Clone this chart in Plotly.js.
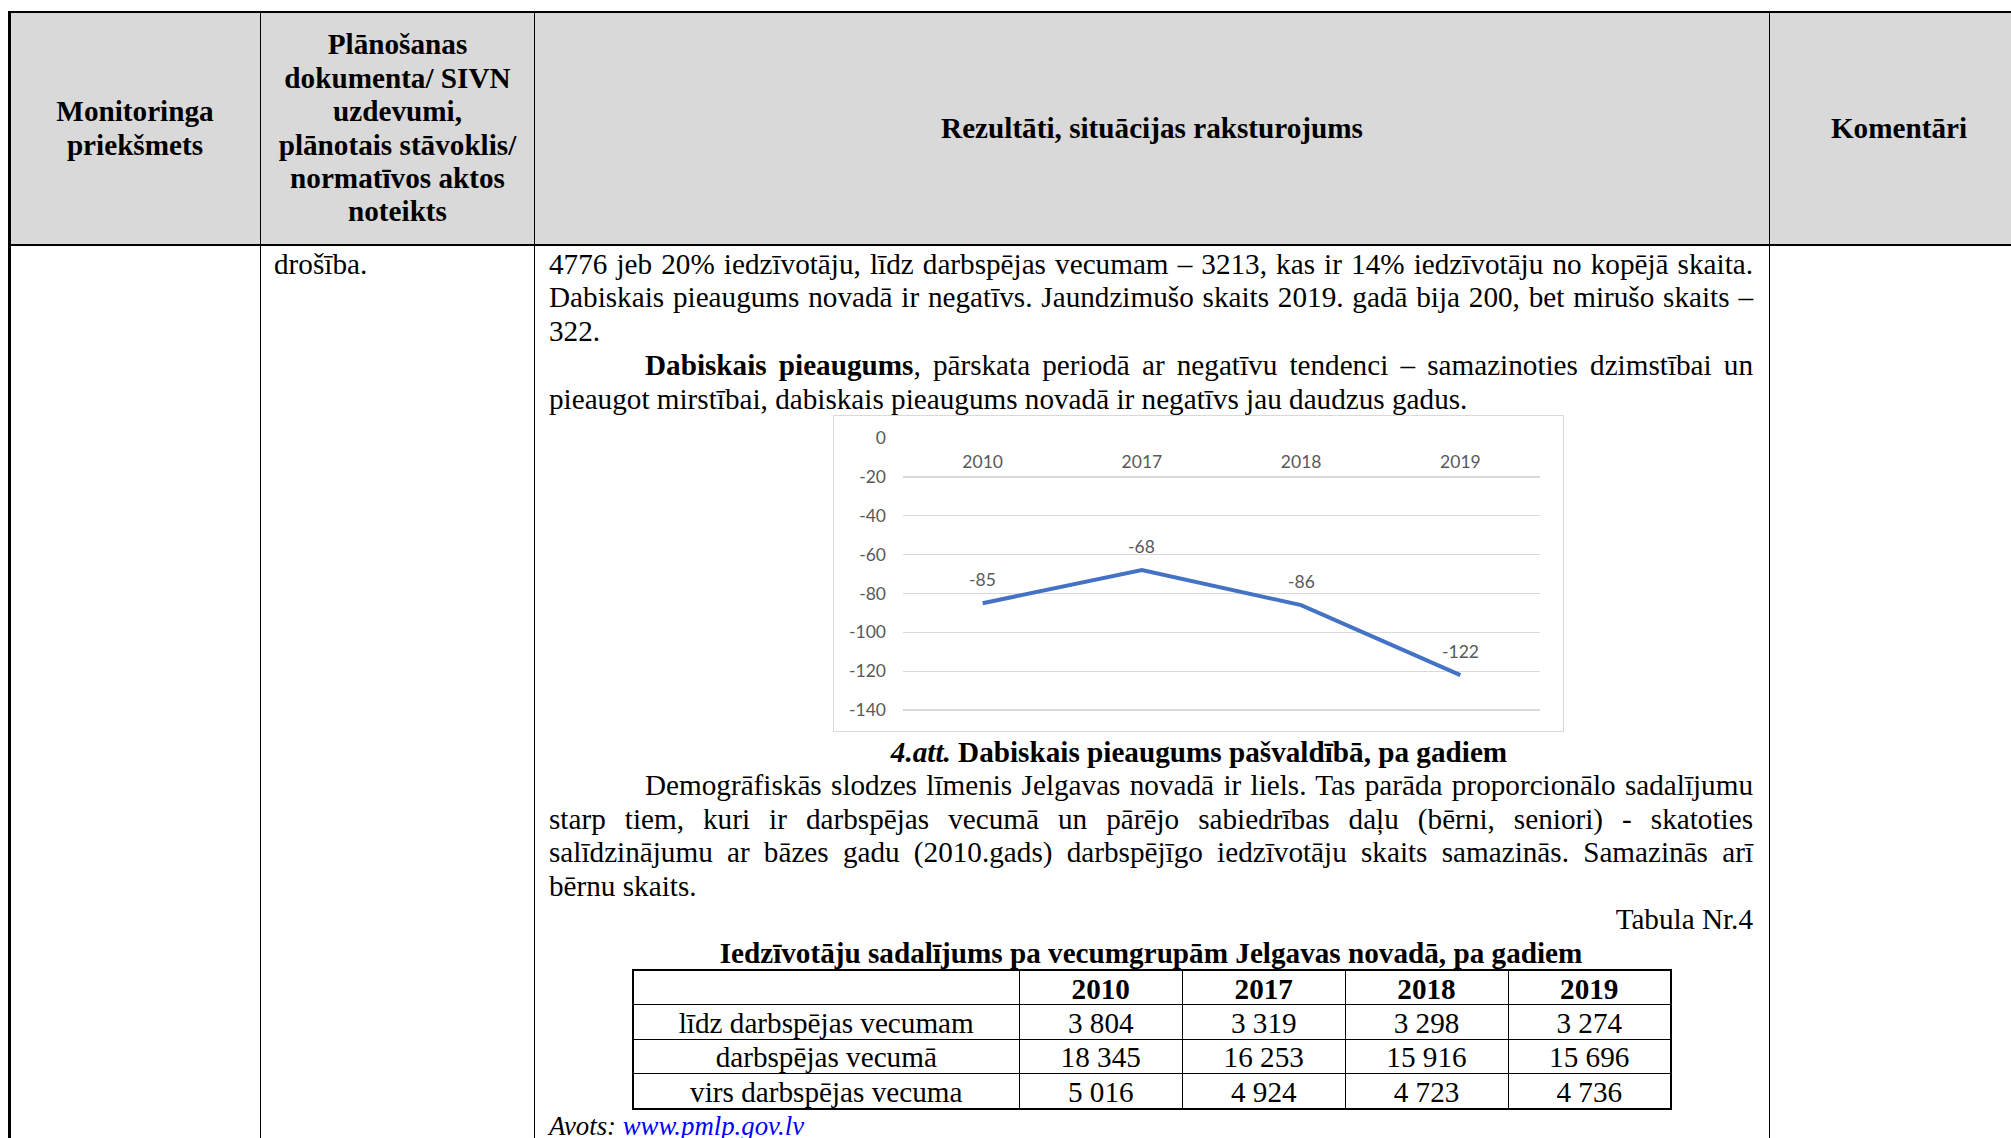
<!DOCTYPE html>
<html>
<head>
<meta charset="utf-8">
<script src="https://cdn.plot.ly/plotly-3.0.1.min.js"></script>
<style>
  html, body { margin: 0; padding: 0; background: #fff; }
  body { width: 2011px; height: 1138px; overflow: hidden; position: relative;
         font-family: "Liberation Serif", "Times New Roman", serif; font-size: 29.2px; color: #000; }
  .abs { position: absolute; }
  .hl { position: absolute; background: #000; }
  .vl { position: absolute; background: #000; top: 11px; height: 1127px; }
  .hcell { position: absolute; top: 13px; height: 231px; display: flex; align-items: center;
           justify-content: center; text-align: center; font-weight: bold; line-height: 33.4px; }
  .line { position: absolute; left: 549px; width: 1204px; height: 33.4px; line-height: 33.4px; white-space: nowrap; }
  .just { text-align: justify; text-align-last: justify; }
  .ind { left: 645px; width: 1108px; }
  #tbl { position: absolute; left: 632px; top: 969px; border-collapse: collapse; table-layout: fixed;
         width: 1039px; border: 2px solid #000; }
  #tbl td { border: 1.5px solid #000; padding: 0; height: 32px; line-height: 33.4px; vertical-align: top;
            text-align: center; white-space: nowrap; }
  #tbl td > div { position: relative; top: 1.5px; }
  #tbl tr:first-child td { font-weight: bold; }
  #chartBorder { position: absolute; left: 833px; top: 415px; width: 731px; height: 317px;
                 border: 1.5px solid #d9d9d9; box-sizing: border-box; pointer-events: none; }
  #grafico { position: absolute; left: 834px; top: 416px; width: 730px; height: 314px; }
</style>
</head>
<body>

<!-- outer table -->
<div class="abs" style="left:10px;top:12px;width:2011px;height:233px;background:#d9d9d9;"></div>
<div class="hl" style="left:8px;top:11px;width:2011px;height:2px;"></div>
<div class="hl" style="left:8px;top:244px;width:2011px;height:2px;"></div>
<div class="vl" style="left:8px;width:2.5px;"></div>
<div class="vl" style="left:259.5px;width:1.5px;"></div>
<div class="vl" style="left:533.5px;width:1.5px;"></div>
<div class="vl" style="left:1768.5px;width:1.5px;"></div>

<div class="hcell" style="left:10px;width:250px;">Monitoringa<br>priekšmets</div>
<div class="hcell" style="left:261px;width:273px;">Plānošanas<br>dokumenta/ SIVN<br>uzdevumi,<br>plānotais stāvoklis/<br>normatīvos aktos<br>noteikts</div>
<div class="hcell" style="left:535px;width:1234px;">Rezultāti, situācijas raksturojums</div>
<div class="hcell" style="left:1770px;width:258px;">Komentāri</div>

<div class="line" style="left:274px;width:250px;top:248px;">drošība.</div>

<div class="line just" style="top:248px;">4776 jeb 20% iedzīvotāju, līdz darbspējas vecumam – 3213, kas ir 14% iedzīvotāju no kopējā skaita.</div>
<div class="line just" style="top:281.4px;">Dabiskais pieaugums novadā ir negatīvs. Jaundzimušo skaits 2019. gadā bija 200, bet mirušo skaits –</div>
<div class="line" style="top:315px;">322.</div>
<div class="line just ind" style="top:349px;"><b>Dabiskais pieaugums</b>, pārskata periodā ar negatīvu tendenci – samazinoties dzimstībai un</div>
<div class="line" style="top:382.6px;">pieaugot mirstībai, dabiskais pieaugums novadā ir negatīvs jau daudzus gadus.</div>

<div id="grafico"></div>
<div id="chartBorder"></div>

<div class="line" style="left:834px;width:730px;text-align:center;top:735.5px;font-weight:bold;"><i>4.att.</i> Dabiskais pieaugums pašvaldībā, pa gadiem</div>

<div class="line just ind" style="top:769.4px;">Demogrāfiskās slodzes līmenis Jelgavas novadā ir liels. Tas parāda proporcionālo sadalījumu</div>
<div class="line just" style="top:802.8px;">starp tiem, kuri ir darbspējas vecumā un pārējo sabiedrības daļu (bērni, seniori) - skatoties</div>
<div class="line just" style="top:836.2px;">salīdzinājumu ar bāzes gadu (2010.gads) darbspējīgo iedzīvotāju skaits samazinās. Samazinās arī</div>
<div class="line" style="top:869.6px;">bērnu skaits.</div>
<div class="line" style="top:903.3px;text-align:right;">Tabula Nr.4</div>
<div class="line" style="top:936.7px;text-align:center;font-weight:bold;">Iedzīvotāju sadalījums pa vecumgrupām Jelgavas novadā, pa gadiem</div>

<table id="tbl"></table>

<div class="abs" style="left:549px;top:1111px;font-size:26.8px;line-height:30px;font-style:italic;white-space:nowrap;">Avots: <span style="color:#0000ff;">www.pmlp.gov.lv</span></div>

<script>
// dabiskais pieaugums pa gadiem
var gadi = ['2010', '2017', '2018', '2019'];
var pieaugums = [-85, -68, -86, -122];
var assVertibas = [0, -20, -40, -60, -80, -100, -120, -140];

// iedzīvotāju sadalījums pa vecumgrupām
var vecumgrupas = ['līdz darbspējas vecumam', 'darbspējas vecumā', 'virs darbspējas vecuma'];
var lidzDarbspejas = [3804, 3319, 3298, 3274];
var darbspejas = [18345, 16253, 15916, 15696];
var virsDarbspejas = [5016, 4924, 4723, 4736];

function formatet(n) {
    return String(n).replace(/\B(?=(\d{3})+(?!\d))/g, ' ');
}

function tabula() {
    var rindas = [lidzDarbspejas, darbspejas, virsDarbspejas];
    var platumi = [386, 163.5, 162.5, 163, 163];
    var html = '<colgroup>';
    for (var k = 0; k < platumi.length; k++) {
        html += '<col style="width:' + platumi[k] + 'px">';
    }
    html += '</colgroup><tr><td></td>';
    for (var i = 0; i < gadi.length; i++) {
        html += '<td><div>' + gadi[i] + '</div></td>';
    }
    html += '</tr>';
    for (var r = 0; r < rindas.length; r++) {
        html += '<tr><td><div>' + vecumgrupas[r] + '</div></td>';
        for (var j = 0; j < rindas[r].length; j++) {
            html += '<td><div>' + formatet(rindas[r][j]) + '</div></td>';
        }
        html += '</tr>';
    }
    document.getElementById('tbl').innerHTML = html;
}

function grafiks() {
    var pelēks = '#595959';
    var fonts = {family: 'Lato, "Open Sans", sans-serif', size: 17.5, color: pelēks};

    var dati = [{
        x: gadi,
        y: pieaugums,
        mode: 'lines',
        type: 'scatter',
        line: {color: '#4472C4', width: 4},
        hoverinfo: 'skip'
    }];

    // datu etiķetes virs punktiem (x pēc kategorijas indeksa)
    var anotacijas = [];
    for (var i = 0; i < gadi.length; i++) {
        anotacijas.push({
            x: i,
            y: pieaugums[i],
            xref: 'x',
            yref: 'y',
            text: String(pieaugums[i]),
            showarrow: false,
            yshift: 24,
            font: fonts
        });
    }

    var estilo = {
        width: 730,
        height: 314,
        margin: {l: 69, r: 24, t: 21, b: 17},
        paper_bgcolor: '#ffffff',
        plot_bgcolor: '#ffffff',
        showlegend: false,
        font: fonts,
        xaxis: {
            type: 'category',
            categoryorder: 'array',
            categoryarray: gadi,
            range: [-0.5, gadi.length - 0.5],
            anchor: 'free',
            position: 1,
            side: 'bottom',
            showgrid: false,
            showline: false,
            zeroline: false,
            ticks: '',
            ticklabelstandoff: 12,
            tickfont: fonts
        },
        yaxis: {
            range: [-141.5, 0.5],
            tickmode: 'array',
            tickvals: assVertibas,
            ticktext: assVertibas.map(String),
            showgrid: true,
            gridcolor: '#d9d9d9',
            gridwidth: 1.4,
            zeroline: false,
            showline: false,
            ticks: '',
            ticklabelstandoff: 16,
            tickfont: fonts
        },
        annotations: anotacijas
    };

    Plotly.newPlot('grafico', dati, estilo, {staticPlot: true, displayModeBar: false});
}

tabula();
grafiks();
</script>
</body>
</html>
